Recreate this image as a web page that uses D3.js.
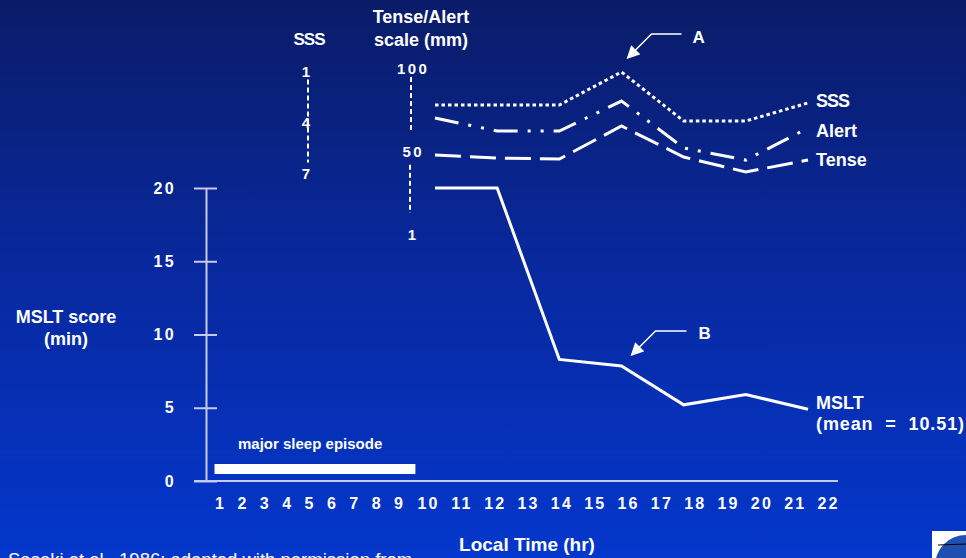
<!DOCTYPE html>
<html><head><meta charset="utf-8">
<script src="https://cdn.jsdelivr.net/npm/d3@7"></script>
<style>html,body{margin:0;padding:0;overflow:hidden;background:#0a2090}
text{font-family:"Liberation Sans",Arial,Helvetica,sans-serif;fill:#fff}</style>
</head><body>
<svg id="chart" width="966" height="558"></svg>
<script>
// ---- data ----
const hours = [10, 12, 14, 16, 18, 20, 22];
const msltValues = [20, 20, 8.3, 7.85, 5.2, 5.9, 4.9];
const sssValues = [2.97, 2.97, 2.97, 1.03, 3.91, 3.91, 2.85];
const alertValues = [70.2, 62.4, 62.4, 80.3, 52.3, 45.1, 64.2];
const tenseValues = [48.1, 46.3, 45.7, 65.4, 46.9, 38.0, 45.1];
const timeTicks = d3.range(1, 23);
const msltTicks = [0, 5, 10, 15, 20];
const sssTicks = [1, 4, 7];
const tenseTicks = [100, 50, 1];
const sleepEpisode = [0.8, 9.6];
const msltMean = 10.51;

const W = 966, H = 558;
const svg = d3.select("#chart");
const FONT = '"Liberation Sans",Arial,Helvetica,sans-serif';

// background gradient
const defs = svg.append("defs");
const grad = defs.append("linearGradient").attr("id", "bg").attr("x1", 0).attr("y1", 0).attr("x2", 0).attr("y2", 1);
grad.append("stop").attr("offset", "0%").attr("stop-color", "#0a1c68");
grad.append("stop").attr("offset", "50%").attr("stop-color", "#0829a0");
grad.append("stop").attr("offset", "100%").attr("stop-color", "#0437cc");
svg.append("rect").attr("width", W).attr("height", H).attr("fill", "url(#bg)");

defs.append("marker").attr("id", "arrow").attr("viewBox", "0 0 10 10")
  .attr("refX", 9).attr("refY", 5).attr("markerWidth", 13).attr("markerHeight", 13)
  .attr("markerUnits", "userSpaceOnUse").attr("orient", "auto")
  .append("path").attr("d", "M0,0 L10,5 L0,10 z").attr("fill", "#fff");

// ---- scales ----
const xTick = d3.scaleLinear().domain([1, 9, 10, 22]).range([219, 398, 427, 827]);
const xData = d3.scaleLinear().domain([10, 22]).range([435, 808]);
const yM = d3.scaleLinear().domain([0, 20]).range([481, 188]);
const ySSS = d3.scaleLinear().domain([1, 7]).range([71.5, 173.5]);
const yTA = d3.scaleLinear().domain([1, 100]).range([234, 68]);

const axisColor = "#c4cbeb";

// ---- x axis ----
svg.append("line").attr("x1", 194).attr("x2", 838).attr("y1", yM(0)).attr("y2", yM(0))
  .attr("stroke", axisColor).attr("stroke-width", 2);
const gx = svg.append("g").attr("transform", `translate(0,${yM(0)})`)
  .call(d3.axisBottom(xTick).tickValues(timeTicks).tickSize(0).tickPadding(16.5).tickFormat(d3.format("d")));
gx.select(".domain").remove();
gx.selectAll("text").attr("fill", "#fff").style("font-family", FONT).style("font-size", "16px")
  .style("font-weight", "bold").style("letter-spacing", "2.2px").attr("dx", "1.1px");

// ---- y axis (MSLT) ----
const gy = svg.append("g").attr("transform", "translate(206,0)")
  .call(d3.axisLeft(yM).tickValues(msltTicks).tickSize(12).tickSizeOuter(0).tickPadding(18));
gy.select(".domain").attr("stroke", axisColor).attr("stroke-width", 2);
gy.selectAll(".tick line").attr("stroke", axisColor).attr("stroke-width", 2).attr("x1", 11);
gy.selectAll("text").attr("fill", "#fff").style("font-family", FONT).style("font-size", "16px")
  .style("font-weight", "bold").style("letter-spacing", "2.4px");

// ---- sleep episode bar ----
svg.append("rect").attr("x", xTick(sleepEpisode[0])).attr("width", xTick(sleepEpisode[1]) - xTick(sleepEpisode[0]))
  .attr("y", 464).attr("height", 10).attr("fill", "#fff");
svg.append("text").attr("x", 238).attr("y", 449).style("font-size", "15px").style("font-weight", "bold")
  .text("major sleep episode");

// ---- SSS scale ----
svg.append("line").attr("x1", 308).attr("x2", 308).attr("y1", ySSS(1) + 8).attr("y2", ySSS(7) - 11)
  .attr("stroke", "#fff").attr("stroke-width", 2).attr("stroke-dasharray", "5,3");
svg.selectAll(".sssTick").data(sssTicks).join("text").attr("class", "sssTick")
  .attr("x", 306).attr("y", d => ySSS(d) + 5.5).attr("text-anchor", "middle")
  .style("font-size", "15px").style("font-weight", "bold").text(d => d);
svg.append("text").attr("x", 309).attr("y", 45).attr("text-anchor", "middle")
  .style("font-size", "17px").style("font-weight", "bold").style("letter-spacing", "-1px").text("SSS");

// ---- Tense/Alert scale ----
svg.append("line").attr("x1", 411).attr("x2", 411).attr("y1", yTA(100) + 9).attr("y2", yTA(50) - 19)
  .attr("stroke", "#fff").attr("stroke-width", 2).attr("stroke-dasharray", "5,3");
svg.append("line").attr("x1", 410).attr("x2", 410).attr("y1", yTA(50) + 13).attr("y2", yTA(1) - 21)
  .attr("stroke", "#fff").attr("stroke-width", 2).attr("stroke-dasharray", "5,3");
svg.selectAll(".taTick").data(tenseTicks).join("text").attr("class", "taTick")
  .attr("x", 412).attr("y", d => yTA(d) + 5.5).attr("text-anchor", "middle")
  .style("font-size", "15px").style("font-weight", "bold").style("letter-spacing", d => d === 1 ? "0px" : "2.4px")
  .attr("dx", d => d === 1 ? 0 : 1.2).text(d => d);
svg.append("text").attr("x", 421).attr("y", 23).attr("text-anchor", "middle")
  .style("font-size", "18px").style("font-weight", "bold").text("Tense/Alert");
svg.append("text").attr("x", 421).attr("y", 46).attr("text-anchor", "middle")
  .style("font-size", "18px").style("font-weight", "bold").text("scale (mm)");

// ---- series lines ----
function drawSeries(values, yScale, dash) {
  const pts = hours.map((h, i) => [h, values[i]]);
  svg.append("path").datum(pts)
    .attr("d", d3.line().x(d => xData(d[0])).y(d => yScale(d[1])))
    .attr("fill", "none").attr("stroke", "#fff").attr("stroke-width", 3)
    .attr("stroke-linejoin", "miter").attr("stroke-dasharray", dash);
}
drawSeries(msltValues, yM, null);
drawSeries(sssValues, ySSS, "3.5,3");
drawSeries(alertValues, yTA, "24,10,3,10,3,10");
drawSeries(tenseValues, yTA, "26,9");

// ---- series labels ----
const last = hours.length - 1;
const lx = xData(22) + 8;
const lbl = (y, t) => svg.append("text").attr("x", lx).attr("y", y)
  .style("font-size", "18px").style("font-weight", "bold").style("white-space", "pre").text(t);
lbl(ySSS(sssValues[last]) + 4, "SSS").style("letter-spacing", "-1px");
lbl(yTA(alertValues[last]) + 9, "Alert");
lbl(yTA(tenseValues[last]) + 6, "Tense");
lbl(yM(msltValues[last]) + 0, "MSLT");
lbl(yM(msltValues[last]) + 21, `(mean  =  ${msltMean})`).style("letter-spacing", "0.9px");

// ---- annotations ----
function annot(px, py, tip, elbow, end, label, lpos) {
  svg.append("path")
    .attr("d", `M${px + end[0]},${py + end[1]} L${px + elbow[0]},${py + elbow[1]} L${px + tip[0]},${py + tip[1]}`)
    .attr("fill", "none").attr("stroke", "#fff").attr("stroke-width", 1.5).attr("marker-end", "url(#arrow)");
  svg.append("text").attr("x", px + lpos[0]).attr("y", py + lpos[1])
    .style("font-size", "17px").style("font-weight", "bold").text(label);
}
const ia = sssValues.indexOf(d3.min(sssValues));
annot(xData(hours[ia]), ySSS(sssValues[ia]), [6, -14], [30, -38], [60, -38], "A", [71, -29]);
annot(xData(16), yM(msltValues[3]), [10, -11], [34, -35], [65, -35], "B", [77, -27]);

// ---- axis titles ----
svg.append("text").attr("x", 66).attr("y", 323).attr("text-anchor", "middle")
  .style("font-size", "18px").style("font-weight", "bold").text("MSLT score");
svg.append("text").attr("x", 66).attr("y", 345).attr("text-anchor", "middle")
  .style("font-size", "18px").style("font-weight", "bold").text("(min)");
svg.append("text").attr("x", 527).attr("y", 551).attr("text-anchor", "middle")
  .style("font-size", "19px").style("font-weight", "bold").text("Local Time (hr)");

// ---- source note (cut off at the bottom edge, as in the original slide) ----
svg.append("text").attr("x", 8).attr("y", 566).style("font-size", "18.5px")
  .text("Sasaki et al., 1986; adapted with permission from");

// ---- logo corner ----
svg.append("rect").attr("x", 932).attr("y", 531).attr("width", 34).attr("height", 27).attr("fill", "#fff");
svg.append("circle").attr("cx", 966).attr("cy", 566).attr("r", 31).attr("fill", "#1f4fb0");
svg.append("line").attr("x1", 938).attr("x2", 966).attr("y1", 545).attr("y2", 544).attr("stroke", "#000").attr("stroke-width", 1);
</script>
</body></html>
